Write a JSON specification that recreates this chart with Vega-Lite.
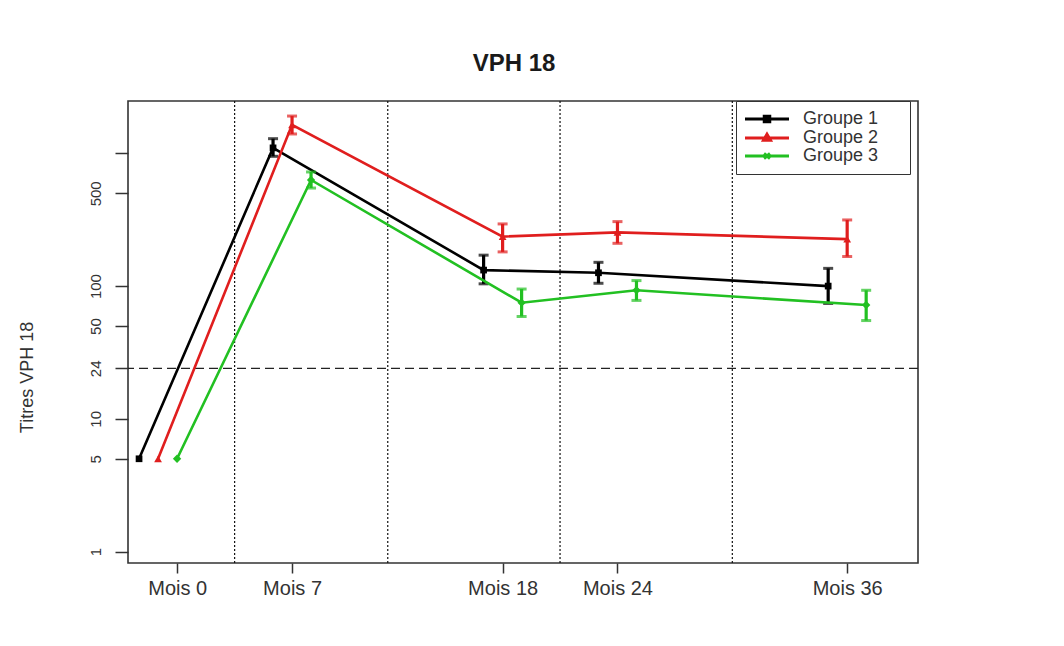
{
  "$schema": "https://vega.github.io/schema/vega-lite/v6.json",
  "width": 790,
  "height": 462,
  "autosize": "none",
  "padding": {"left": 128, "top": 101, "right": 146, "bottom": 83},
  "background": "white",
  "title": {
    "text": "VPH 18",
    "font": "Liberation Sans",
    "fontSize": 24,
    "fontWeight": "bold",
    "color": "#1a1a1a",
    "anchor": "middle",
    "frame": "group",
    "baseline": "bottom",
    "offset": 0,
    "dx": -9
  },
  "datasets": {
    "titres": [
      {"groupe": "Groupe 1", "mois": 0, "titre": 5, "bas": null, "haut": null},
      {"groupe": "Groupe 1", "mois": 7, "titre": 1100, "bas": 950, "haut": 1290},
      {"groupe": "Groupe 1", "mois": 18, "titre": 132, "bas": 104, "haut": 171},
      {"groupe": "Groupe 1", "mois": 24, "titre": 126, "bas": 105, "haut": 151},
      {"groupe": "Groupe 1", "mois": 36, "titre": 100, "bas": 74, "haut": 136},
      {"groupe": "Groupe 2", "mois": 0, "titre": 5, "bas": null, "haut": null},
      {"groupe": "Groupe 2", "mois": 7, "titre": 1640, "bas": 1400, "haut": 1910},
      {"groupe": "Groupe 2", "mois": 18, "titre": 236, "bas": 181, "haut": 294},
      {"groupe": "Groupe 2", "mois": 24, "titre": 254, "bas": 210, "haut": 306},
      {"groupe": "Groupe 2", "mois": 36, "titre": 226, "bas": 167, "haut": 315},
      {"groupe": "Groupe 3", "mois": 0, "titre": 5, "bas": null, "haut": null},
      {"groupe": "Groupe 3", "mois": 7, "titre": 630, "bas": 548, "haut": 724},
      {"groupe": "Groupe 3", "mois": 18, "titre": 75, "bas": 59, "haut": 95},
      {"groupe": "Groupe 3", "mois": 24, "titre": 93, "bas": 78, "haut": 110},
      {"groupe": "Groupe 3", "mois": 36, "titre": 72, "bas": 55, "haut": 93}
    ],
    "verticales": [{"mois": 4}, {"mois": 12}, {"mois": 21}, {"mois": 30}],
    "seuil": [{"titre": 24}]
  },
  "encoding": {
    "x": {
      "field": "mois",
      "type": "quantitative",
      "scale": {"type": "linear", "domain": [-1.57, 39.7], "nice": false, "zero": false},
      "axis": {
        "title": null,
        "values": [1, 7, 18, 24, 36],
        "labelExpr": "datum.value == 1 ? 'Mois 0' : 'Mois ' + datum.value",
        "grid": false,
        "domain": false,
        "tickSize": 10,
        "tickWidth": 1.5,
        "tickColor": "#333",
        "labelPadding": 5,
        "labelFont": "Liberation Sans",
        "labelFontSize": 20,
        "labelColor": "#333",
        "labelBaseline": "top"
      }
    },
    "y": {
      "field": "titre",
      "type": "quantitative",
      "scale": {"type": "log", "domain": [0.82, 2480], "nice": false},
      "axis": {
        "title": "Titres VPH 18",
        "titleFont": "Liberation Sans",
        "titleFontSize": 18,
        "titleFontWeight": "normal",
        "titleColor": "#333",
        "titleX": -101,
        "titleY": 276,
        "titleBaseline": "middle",
        "titleAlign": "center",
        "titleAngle": 270,
        "values": [1, 5, 10, 24, 50, 100, 500, 1000],
        "labelExpr": "datum.value == 1000 ? '' : datum.value",
        "labelAngle": 270,
        "labelAlign": "center",
        "labelBaseline": "bottom",
        "labelPadding": 12,
        "labelFont": "Liberation Sans",
        "labelFontSize": 15,
        "labelColor": "#333",
        "grid": false,
        "domain": false,
        "tickSize": 13,
        "tickWidth": 1.5,
        "tickColor": "#333"
      }
    }
  },
  "layer": [
    {
      "data": {"name": "verticales"},
      "mark": {"type": "rule", "color": "#111", "strokeWidth": 1.2, "strokeDash": [2, 2]},
      "encoding": {"y": null}
    },
    {
      "data": {"name": "seuil"},
      "mark": {"type": "rule", "color": "#222", "strokeWidth": 1.3, "strokeDash": [9, 5]},
      "encoding": {"x": null}
    },
    {
      "data": {"name": "titres"},
      "transform": [{"filter": "datum.groupe == 'Groupe 1'"}],
      "layer": [
        {"mark": {"type": "line", "color": "#000000", "strokeWidth": 2.6, "xOffset": -19}, "encoding": {}},
        {
          "transform": [{"filter": "datum.bas != null"}],
          "mark": {"type": "rule", "color": "#000000", "strokeWidth": 3.2, "xOffset": -19},
          "encoding": {"y": {"field": "bas", "type": "quantitative"}, "y2": {"field": "haut"}}
        },
        {
          "transform": [{"filter": "datum.bas != null"}],
          "mark": {"type": "tick", "orient": "horizontal", "size": 10, "thickness": 3, "color": "#000000", "xOffset": -19},
          "encoding": {"y": {"field": "bas", "type": "quantitative"}}
        },
        {
          "transform": [{"filter": "datum.haut != null"}],
          "mark": {"type": "tick", "orient": "horizontal", "size": 10, "thickness": 3, "color": "#000000", "xOffset": -19},
          "encoding": {"y": {"field": "haut", "type": "quantitative"}}
        },
        {
          "mark": {"type": "point", "shape": "square", "filled": true, "size": 45, "opacity": 1, "color": "#000000", "xOffset": -19},
          "encoding": {}
        }
      ]
    },
    {
      "data": {"name": "titres"},
      "transform": [{"filter": "datum.groupe == 'Groupe 2'"}],
      "layer": [
        {"mark": {"type": "line", "color": "#e01e1e", "strokeWidth": 2.6, "xOffset": 0}, "encoding": {}},
        {
          "transform": [{"filter": "datum.bas != null"}],
          "mark": {"type": "rule", "color": "#e01e1e", "strokeWidth": 3.2},
          "encoding": {"y": {"field": "bas", "type": "quantitative"}, "y2": {"field": "haut"}}
        },
        {
          "transform": [{"filter": "datum.bas != null"}],
          "mark": {"type": "tick", "orient": "horizontal", "size": 10, "thickness": 3, "color": "#e01e1e"},
          "encoding": {"y": {"field": "bas", "type": "quantitative"}}
        },
        {
          "transform": [{"filter": "datum.haut != null"}],
          "mark": {"type": "tick", "orient": "horizontal", "size": 10, "thickness": 3, "color": "#e01e1e"},
          "encoding": {"y": {"field": "haut", "type": "quantitative"}}
        },
        {
          "mark": {"type": "point", "shape": "triangle-up", "filled": true, "size": 60, "opacity": 1, "color": "#e01e1e"},
          "encoding": {}
        }
      ]
    },
    {
      "data": {"name": "titres"},
      "transform": [{"filter": "datum.groupe == 'Groupe 3'"}],
      "layer": [
        {"mark": {"type": "line", "color": "#22c022", "strokeWidth": 2.6, "xOffset": 19}, "encoding": {}},
        {
          "transform": [{"filter": "datum.bas != null"}],
          "mark": {"type": "rule", "color": "#22c022", "strokeWidth": 3.2, "xOffset": 19},
          "encoding": {"y": {"field": "bas", "type": "quantitative"}, "y2": {"field": "haut"}}
        },
        {
          "transform": [{"filter": "datum.bas != null"}],
          "mark": {"type": "tick", "orient": "horizontal", "size": 10, "thickness": 3, "color": "#22c022", "xOffset": 19},
          "encoding": {"y": {"field": "bas", "type": "quantitative"}}
        },
        {
          "transform": [{"filter": "datum.haut != null"}],
          "mark": {"type": "tick", "orient": "horizontal", "size": 10, "thickness": 3, "color": "#22c022", "xOffset": 19},
          "encoding": {"y": {"field": "haut", "type": "quantitative"}}
        },
        {
          "mark": {"type": "point", "shape": "diamond", "filled": true, "size": 70, "opacity": 1, "color": "#22c022", "xOffset": 19},
          "encoding": {}
        }
      ]
    },
    {
      "data": {"name": "titres"},
      "mark": {"type": "point", "filled": false, "opacity": 0},
      "encoding": {
        "color": {
          "field": "groupe",
          "type": "nominal",
          "scale": {"domain": ["Groupe 1", "Groupe 2", "Groupe 3"], "range": ["#000000", "#e01e1e", "#22c022"]},
          "legend": {
            "title": "Gr",
            "titleOrient": "right",
            "titleOpacity": 0,
            "titleFontSize": 10,
            "titlePadding": 11,
            "orient": "none",
            "legendX": 608,
            "legendY": 0,
            "strokeColor": "#333",
            "fillColor": "white",
            "padding": 9,
            "symbolSize": 100,
            "symbolOffset": 13,
            "symbolStrokeWidth": 3,
            "symbolOpacity": 1,
            "labelOffset": 27,
            "labelFont": "Liberation Sans",
            "labelFontSize": 18,
            "labelColor": "#333",
            "rowPadding": 0
          }
        },
        "shape": {
          "field": "groupe",
          "type": "nominal",
          "scale": {
            "domain": ["Groupe 1", "Groupe 2", "Groupe 3"],
            "range": [
              "M-4.4,0H4.4M-0.55,-0.55H0.55V0.55H-0.55Z",
              "M-4.4,0H4.4M0,-0.75L0.7,0.45H-0.7Z",
              "M-4.4,0H4.4M-0.6,-0.5L0.6,0.5M-0.6,0.5L0.6,-0.5"
            ]
          }
        }
      }
    }
  ],
  "config": {
    "view": {"stroke": "#333", "strokeWidth": 1.6}
  }
}
